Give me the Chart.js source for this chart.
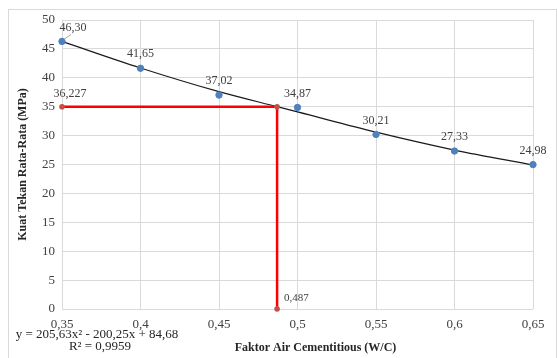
<!DOCTYPE html>
<html>
<head>
<meta charset="utf-8">
<script src="https://cdn.jsdelivr.net/npm/chart.js@4.4.1/dist/chart.umd.min.js"></script>
<style>
  html, body { margin: 0; padding: 0; background: #fff; }
  #wrap { width: 557px; height: 358px; position: relative; }
</style>
</head>
<body>
<div id="wrap"><canvas id="c"></canvas></div>
<script>
// measured points
const wcRatio = [0.35, 0.40, 0.45, 0.50, 0.55, 0.60, 0.65];
const strength = [46.30, 41.65, 37.02, 34.87, 30.21, 27.33, 24.98];
const strengthLabels = ['46,30', '41,65', '37,02', '34,87', '30,21', '27,33', '24,98'];

// polynomial trendline
const trendX = [0.35, 0.40, 0.45, 0.487, 0.50, 0.55, 0.60, 0.65];
const trendY = [46.3, 41.7, 37.6, 35.0, 34.1, 30.6, 27.5, 24.9];

// red read-off guide
const guideX = [0.35, 0.487, 0.487];
const guideY = [35, 35, 0];
const guideLabels = ['36,227', '', '0,487'];

const xTicks = [0.35, 0.40, 0.45, 0.50, 0.55, 0.60, 0.65];
const yTicks = [0, 5, 10, 15, 20, 25, 30, 35, 40, 45, 50];

const equationText = 'y = 205,63x\u00B2 - 200,25x + 84,68';
const r2Text = 'R\u00B2 = 0,9959';
const xTitle = 'Faktor Air Cementitious (W/C)';
const yTitle = 'Kuat Tekan Rata-Rata (MPa)';

const serif = "'Liberation Serif', 'Times New Roman', serif";

const toXY = (xs, ys) => xs.map((x, i) => ({ x: x, y: ys[i] }));

const decorPlugin = {
    id: 'decor',
    beforeDraw(chart) {
        const ctx = chart.ctx;
        ctx.save();
        ctx.strokeStyle = '#d9d9d9';
        ctx.lineWidth = 1;
        ctx.strokeRect(8.5, 9.5, 548, 352);
        ctx.restore();
    },
    afterDatasetsDraw(chart) {
        const ctx = chart.ctx;
        const area = chart.chartArea;
        ctx.save();
        ctx.font = '12px ' + serif;
        ctx.fillStyle = '#404040';
        ctx.textAlign = 'center';
        ctx.textBaseline = 'middle';

        // blue point labels
        const pts = chart.getDatasetMeta(2).data;
        pts.forEach((p, i) => {
            let lx = p.x, ly = p.y - 14;
            if (i === 0) {
                lx = p.x + 11;
                ly = p.y - 14;
                ctx.strokeStyle = '#a6a6a6';
                ctx.lineWidth = 1;
                ctx.beginPath();
                ctx.moveTo(p.x + 2, p.y - 2);
                ctx.lineTo(p.x + 9, p.y - 7);
                ctx.stroke();
            }
            ctx.fillText(strengthLabels[i], lx, ly);
        });

        // guide labels
        const gp = chart.getDatasetMeta(1).data;
        ctx.fillText(guideLabels[0], gp[0].x + 8, gp[0].y - 13);
        ctx.textAlign = 'left';
        ctx.font = '11px ' + serif;
        ctx.fillText(guideLabels[2], gp[2].x + 7, gp[2].y - 11);

        // trendline equation
        ctx.font = '13px ' + serif;
        ctx.fillStyle = '#262626';
        ctx.textAlign = 'center';
        ctx.fillText(equationText, area.left + 35, area.bottom + 26);
        ctx.fillText(r2Text, area.left + 38, area.bottom + 38);

        // x axis title
        ctx.font = 'bold 12px ' + serif;
        ctx.fillStyle = '#262626';
        ctx.fillText(xTitle, (area.left + area.right) / 2 + 18, area.bottom + 39);
        ctx.restore();
    }
};

new Chart(document.getElementById('c'), {
    type: 'scatter',
    data: {
        datasets: [
            {
                label: 'Trendline',
                type: 'line',
                data: toXY(trendX, trendY),
                borderColor: '#1a1a1a',
                borderWidth: 1.2,
                pointRadius: 0,
                cubicInterpolationMode: 'monotone',
                fill: false,
                clip: false,
                order: 3,
            },
            {
                label: 'Guide',
                type: 'line',
                data: toXY(guideX, guideY),
                borderColor: '#ff0000',
                borderWidth: 2.5,
                pointRadius: 2.8,
                pointBorderWidth: 0,
                pointBackgroundColor: '#c0504d',
                pointBorderColor: '#c0504d',
                tension: 0,
                fill: false,
                clip: false,
                order: 2,
            },
            {
                label: 'Kuat Tekan',
                data: toXY(wcRatio, strength),
                backgroundColor: '#4f81bd',
                borderColor: '#4f81bd',
                pointRadius: 3.2,
                clip: false,
                order: 1,
            },
        ],
    },
    options: {
        responsive: true,
        maintainAspectRatio: false,
        animation: false,
        layout: { padding: { left: 8, top: 20, right: 24, bottom: 0 } },
        plugins: {
            legend: { display: false },
            tooltip: { enabled: false },
        },
        scales: {
            x: {
                type: 'linear',
                min: 0.35, max: 0.65,
                afterBuildTicks: (s) => { s.ticks = xTicks.map(v => ({ value: v })); },
                afterFit: (s) => { s.height = 49; },
                grid: { color: '#d9d9d9', drawTicks: false },
                border: { display: false },
                ticks: {
                    padding: 8,
                    color: '#404040',
                    font: { family: serif, size: 13 },
                    callback: (v) => String(Math.round(v * 100) / 100).replace('.', ','),
                },
            },
            y: {
                min: 0, max: 50,
                afterBuildTicks: (s) => { s.ticks = yTicks.map(v => ({ value: v })); },
                afterFit: (s) => { s.width = 54; },
                grid: { color: '#d9d9d9', drawTicks: false },
                border: { display: false },
                title: {
                    display: true,
                    text: yTitle,
                    color: '#262626',
                    font: { family: serif, size: 12, weight: 'bold' },
                    padding: { top: 8, bottom: 0 },
                },
                ticks: {
                    padding: 7,
                    color: '#404040',
                    font: { family: serif, size: 13 },
                },
            },
        },
    },
    plugins: [decorPlugin],
});
</script>
</body>
</html>
